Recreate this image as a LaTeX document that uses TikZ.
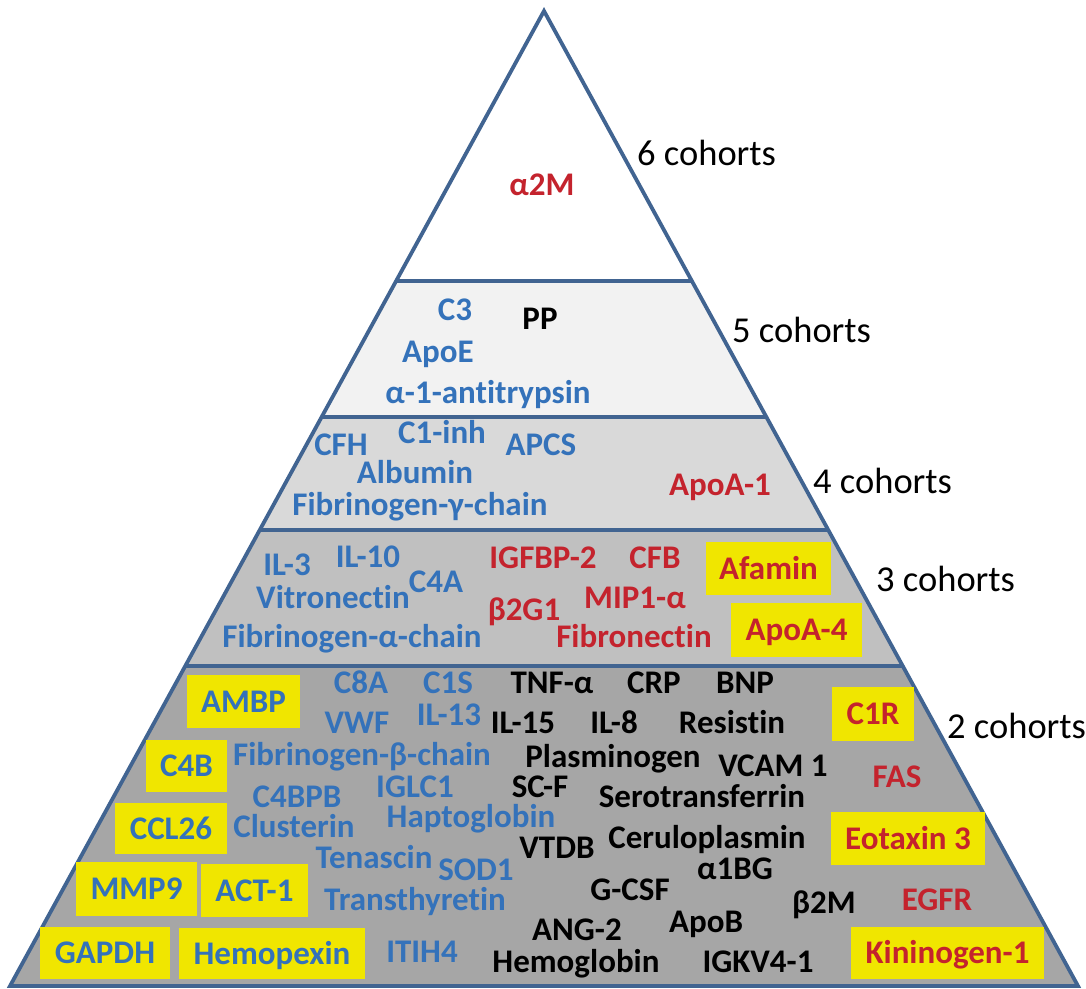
\documentclass[tikz,border=0pt]{standalone}
\usepackage{fontspec}
\setmainfont{Carlito}[Ligatures=NoCommon]
\usetikzlibrary{calc}
\definecolor{edgeblue}{RGB}{65,100,145}
\definecolor{lblue}{RGB}{52,114,186}
\definecolor{lred}{RGB}{196,35,45}
\definecolor{boxyellow}{RGB}{240,230,0}
\definecolor{bandfive}{RGB}{242,242,242}
\definecolor{bandfour}{RGB}{217,217,217}
\definecolor{bandthree}{RGB}{192,192,192}
\definecolor{bandtwo}{RGB}{166,166,166}
\begin{document}
\begin{tikzpicture}[x=1pt,y=-1pt,
  lab/.style={font=\bfseries\fontsize{33}{36}\selectfont, inner sep=0pt, anchor=base, yshift=-10.6pt},
  bl/.style={lab, text=lblue},
  rd/.style={lab, text=lred},
  bk/.style={lab, text=black},
  ybox/.style={fill=boxyellow, font=\bfseries\fontsize{33}{36}\selectfont, inner sep=0pt, text height=21.3pt, text depth=0pt, anchor=center},
  coh/.style={font=\fontsize{36.5}{40}\selectfont, inner sep=0pt, anchor=base west},
  edge/.style={draw=edgeblue, line width=3.8pt}]
\useasboundingbox (0,0) rectangle (1086,988);
\fill[white] (0,0) rectangle (1086,988);
\coordinate (A) at (544,11);
\coordinate (BL) at (10,986);
\coordinate (BR) at (1078,986);
\coordinate (L1) at ($(A)!0.2769!(BL)$);
\coordinate (R1) at ($(A)!0.2769!(BR)$);
\coordinate (L2) at ($(A)!0.4164!(BL)$);
\coordinate (R2) at ($(A)!0.4164!(BR)$);
\coordinate (L3) at ($(A)!0.5323!(BL)$);
\coordinate (R3) at ($(A)!0.5323!(BR)$);
\coordinate (L4) at ($(A)!0.6718!(BL)$);
\coordinate (R4) at ($(A)!0.6718!(BR)$);
\fill[bandfive] (L1)--(R1)--(R2)--(L2)--cycle;
\fill[bandfour] (L2)--(R2)--(R3)--(L3)--cycle;
\fill[bandthree] (L3)--(R3)--(R4)--(L4)--cycle;
\fill[bandtwo] (L4)--(R4)--(BR)--(BL)--cycle;
\draw[edge] (L1)--(R1);
\draw[edge] (L2)--(R2);
\draw[edge] (L3)--(R3);
\draw[edge] (L4)--(R4);
\draw[edge, line join=miter] (A)--(BR)--(BL)--cycle;

% cohort labels (anchored at baseline)
\node[coh] (c6) at (637,165) {6 cohorts};
\node[coh] (c5) at (732,342) {5 cohorts};
\node[coh] (c4) at (813,493) {4 cohorts};
\node[coh] (c3) at (876,591) {3 cohorts};
\node[coh] (c2) at (947,738) {2 cohorts};

% tier 6
\node[rd] (a2m) at (542,185) {α2M};

% tier 5
\node[bl] (c3p) at (455,310) {C3};
\node[bk] (pp) at (540,319) {PP};
\node[bl] (apoe) at (438,352) {ApoE};
\node[bl] (a1at) at (488,393) {α-1-antitrypsin};

% tier 4
\node[bl] (cfh) at (341,445) {CFH};
\node[bl] (c1inh) at (442,433) {C1-inh};
\node[bl] (apcs) at (541,445) {APCS};
\node[bl] (alb) at (415,473) {Albumin};
\node[bl] (fgg) at (420,505) {Fibrinogen-γ-chain};
\node[rd] (apoa1) at (720,485) {ApoA-1};

% tier 3
\node[bl] (il3) at (287,565) {IL-3};
\node[bl] (il10) at (368,557) {IL-10};
\node[bl] (c4a) at (436,582) {C4A};
\node[bl] (vitro) at (333,598) {Vitronectin};
\node[bl] (fga) at (352,637) {Fibrinogen-α-chain};
\node[rd] (igfbp2) at (543,558) {IGFBP-2};
\node[rd] (cfb) at (655,558) {CFB};
\node[rd] (b2g1) at (524,610) {β2G1};
\node[rd] (mip1a) at (635,598) {MIP1-α};
\node[rd] (fibro) at (634,637) {Fibronectin};
\node[ybox, text=lred, minimum width=125pt, minimum height=53pt] (afamin) at (768.5,568.5) {Afamin};
\node[ybox, text=lred, minimum width=131pt, minimum height=54pt] (apoa4) at (796.5,630) {ApoA-4};

% tier 2 boxes
\node[ybox, text=lblue, minimum width=113pt, minimum height=53pt] (ambp) at (243.5,701.5) {AMBP};
\node[ybox, text=lblue, minimum width=81pt, minimum height=52pt] (c4b) at (186.5,766) {C4B};
\node[ybox, text=lblue, minimum width=112pt, minimum height=51pt] (ccl26) at (171,828.5) {CCL26};
\node[ybox, text=lblue, minimum width=121pt, minimum height=54pt] (mmp9) at (136.5,889) {MMP9};
\node[ybox, text=lblue, minimum width=107pt, minimum height=53pt] (act1) at (254.5,890.5) {ACT-1};
\node[ybox, text=lblue, minimum width=130pt, minimum height=52pt] (gapdh) at (105,953) {GAPDH};
\node[ybox, text=lblue, minimum width=186pt, minimum height=51pt] (hemopexin) at (272,953.5) {Hemopexin};
\node[ybox, text=lred, minimum width=82pt, minimum height=54pt] (c1r) at (873,714) {C1R};
\node[ybox, text=lred, minimum width=154pt, minimum height=53pt] (eotaxin) at (908,838.5) {Eotaxin 3};
\node[ybox, text=lred, minimum width=193pt, minimum height=52pt] (kininogen) at (947.5,953) {Kininogen-1};

% tier 2 blue
\node[bl] (c8a) at (361,683) {C8A};
\node[bl] (c1s) at (448,683) {C1S};
\node[bl] (vwf) at (357,723) {VWF};
\node[bl] (il13) at (449,715) {IL-13};
\node[bl] (fgb) at (362,755) {Fibrinogen-β-chain};
\node[bl] (iglc1) at (415,787) {IGLC1};
\node[bl] (c4bpb) at (297,797) {C4BPB};
\node[bl] (clus) at (294,827) {Clusterin};
\node[bl] (hapto) at (471,817) {Haptoglobin};
\node[bl] (tena) at (374,858) {Tenascin};
\node[bl] (sod1) at (476,870) {SOD1};
\node[bl] (ttr) at (415,900) {Transthyretin};
\node[bl] (itih4) at (422,952) {ITIH4};

% tier 2 black
\node[bk] (tnfa) at (552,683) {TNF-α};
\node[bk] (crp) at (654,683) {CRP};
\node[bk] (bnp) at (745,683) {BNP};
\node[bk] (il15) at (523,723) {IL-15};
\node[bk] (il8) at (614,723) {IL-8};
\node[bk] (resistin) at (732,723) {Resistin};
\node[bk] (plasm) at (613,757) {Plasminogen};
\node[bk] (vcam) at (773,766) {VCAM 1};
\node[bk] (scf) at (540,787) {SC-F};
\node[bk] (serotf) at (702,797) {Serotransferrin};
\node[bk] (vtdb) at (557,848) {VTDB};
\node[bk] (cerulo) at (707,838) {Ceruloplasmin};
\node[bk] (a1bg) at (735,869) {α1BG};
\node[bk] (gcsf) at (630,890) {G-CSF};
\node[bk] (b2m) at (824,903) {β2M};
\node[bk] (apob) at (706,922) {ApoB};
\node[bk] (ang2) at (577,930) {ANG-2};
\node[bk] (hemoglobin) at (576,962) {Hemoglobin};
\node[bk] (igkv) at (758,962) {IGKV4-1};

% tier 2 red
\node[rd] (fas) at (897,777) {FAS};
\node[rd] (egfr) at (937,900) {EGFR};
\end{tikzpicture}
\end{document}
